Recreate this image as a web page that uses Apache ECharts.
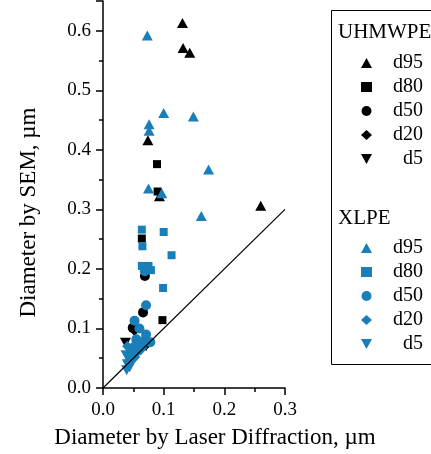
<!DOCTYPE html>
<html>
<head>
<meta charset="utf-8">
<script src="https://cdn.jsdelivr.net/npm/echarts@6/dist/echarts.min.js"></script>
<style>
  html, body { margin: 0; padding: 0; background: #fff; }
  #main { width: 431px; height: 454px; }
</style>
</head>
<body>
<div id="main"></div>
<script>
// data, [laser diffraction, SEM] in µm
var uhmwpeD95 = [[0.131, 0.613], [0.132, 0.571], [0.143, 0.563], [0.074, 0.416], [0.093, 0.322], [0.260, 0.306]];
var uhmwpeD80 = [[0.089, 0.376], [0.090, 0.330], [0.064, 0.251], [0.098, 0.114]];
var uhmwpeD50 = [[0.069, 0.188], [0.066, 0.127], [0.049, 0.101], [0.070, 0.074]];
var uhmwpeD20 = [[0.052, 0.096], [0.072, 0.076], [0.046, 0.066]];
var uhmwpeD5 = [[0.037, 0.076], [0.071, 0.070], [0.048, 0.058]];

var xlpeD95 = [[0.073, 0.592], [0.100, 0.462], [0.149, 0.456], [0.076, 0.443], [0.076, 0.432], [0.174, 0.367], [0.075, 0.335], [0.097, 0.327], [0.162, 0.289]];
var xlpeD80 = [[0.064, 0.266], [0.065, 0.238], [0.100, 0.262], [0.113, 0.223], [0.064, 0.205], [0.075, 0.205], [0.079, 0.198], [0.099, 0.168]];
var xlpeD50 = [[0.071, 0.139], [0.069, 0.196], [0.052, 0.113], [0.060, 0.100], [0.071, 0.090], [0.069, 0.080], [0.078, 0.077], [0.055, 0.082]];
var xlpeD20 = [[0.045, 0.060], [0.050, 0.070], [0.055, 0.078], [0.060, 0.072], [0.048, 0.050], [0.058, 0.062], [0.065, 0.068], [0.042, 0.045], [0.040, 0.070], [0.062, 0.064], [0.053, 0.052]];
var xlpeD5 = [[0.040, 0.040], [0.045, 0.052], [0.052, 0.058], [0.038, 0.055], [0.056, 0.065], [0.044, 0.035], [0.039, 0.030], [0.047, 0.042]];

var diagonal = [[0, 0], [0.3, 0.3]];

var sizeNames = ['d95', 'd80', 'd50', 'd20', 'd5'];
var xTicks = [0, 0.1, 0.2, 0.3];
var yTicks = [0, 0.1, 0.2, 0.3, 0.4, 0.5, 0.6];
var yMax = 0.65;

var FONT = '"Liberation Serif", "Times New Roman", serif';
var BLACK = '#000000';
var BLUE = '#1a7fb8';
var DOWN = 'path://M0,0L11,0L5.5,10Z';
// symbols in the order of sizeNames
var symbols = ['triangle', 'rect', 'circle', 'diamond', DOWN];
var symbolSizes = [[11, 10], 8, 10, [10, 11], [11, 10]];

var chart = echarts.init(document.getElementById('main'));

function scatter(group, i, data, color) {
  return {
    name: group + ' ' + sizeNames[i],
    type: 'scatter',
    data: data,
    symbol: symbols[i],
    symbolSize: symbolSizes[i],
    itemStyle: { color: color, opacity: 1 },
    emphasis: { disabled: true }
  };
}

function legendData(group) {
  return sizeNames.map(function (s, i) {
    return { name: group + ' ' + s, icon: symbols[i] };
  });
}

var legendBase = {
  orient: 'vertical',
  left: 356,
  itemWidth: 11,
  itemHeight: 10,
  itemGap: 4,
  selectedMode: false,
  formatter: function (name) {
    return '{r|' + name.split(' ')[1] + '}';
  },
  textStyle: {
    rich: {
      r: { width: 46, align: 'right', fontSize: 20, fontFamily: FONT, color: BLACK, lineHeight: 22 }
    }
  }
};

var option = {
  animation: false,
  backgroundColor: '#ffffff',
  grid: { left: 103, right: 146, top: 1, bottom: 63 },
  xAxis: {
    type: 'value',
    min: xTicks[0],
    max: xTicks[xTicks.length - 1],
    interval: 0.1,
    name: 'Diameter by Laser Diffraction, µm',
    nameLocation: 'middle',
    nameGap: 38,
    nameTextStyle: { fontFamily: FONT, fontSize: 23, color: BLACK, padding: [0, 0, 0, 42] },
    axisLine: { show: true, lineStyle: { color: BLACK, width: 1.5 } },
    axisTick: { show: true, inside: false, length: 7, lineStyle: { color: BLACK, width: 1.5 } },
    minorTick: { show: true, splitNumber: 2, length: 4, lineStyle: { color: BLACK, width: 1.5 } },
    axisLabel: { fontFamily: FONT, fontSize: 19, color: BLACK, margin: 13, formatter: function (v) { return v.toFixed(1); } },
    splitLine: { show: false }
  },
  yAxis: {
    type: 'value',
    min: yTicks[0],
    max: yMax,
    interval: 0.1,
    name: 'Diameter by SEM, µm',
    nameLocation: 'middle',
    nameGap: 63,
    nameTextStyle: { fontFamily: FONT, fontSize: 23, color: BLACK, padding: [0, 36, 0, 0] },
    axisLine: { show: true, lineStyle: { color: BLACK, width: 1.5 } },
    axisTick: { show: true, inside: false, length: 7, lineStyle: { color: BLACK, width: 1.5 } },
    minorTick: { show: true, splitNumber: 2, length: 4, lineStyle: { color: BLACK, width: 1.5 } },
    axisLabel: {
      fontFamily: FONT, fontSize: 19, color: BLACK, margin: 12, showMaxLabel: false,
      formatter: function (v) { return Math.abs(v * 10 - Math.round(v * 10)) < 1e-6 ? v.toFixed(1) : ''; }
    },
    splitLine: { show: false }
  },
  legend: [
    Object.assign({}, legendBase, { top: 48, data: legendData('UHMWPE') }),
    Object.assign({}, legendBase, { top: 233, data: legendData('XLPE') })
  ],
  graphic: [
    {
      type: 'rect',
      shape: { x: 331.5, y: 10.5, width: 120, height: 354 },
      style: { fill: 'none', stroke: BLACK, lineWidth: 1 },
      silent: true
    },
    {
      type: 'text', x: 338, y: 32,
      style: { text: 'UHMWPE', font: '21px ' + FONT, fill: BLACK, verticalAlign: 'middle' }
    },
    {
      type: 'text', x: 338, y: 218,
      style: { text: 'XLPE', font: '21px ' + FONT, fill: BLACK, verticalAlign: 'middle' }
    }
  ],
  series: [
    scatter('UHMWPE', 0, uhmwpeD95, BLACK),
    scatter('UHMWPE', 1, uhmwpeD80, BLACK),
    scatter('UHMWPE', 2, uhmwpeD50, BLACK),
    scatter('UHMWPE', 3, uhmwpeD20, BLACK),
    scatter('UHMWPE', 4, uhmwpeD5, BLACK),
    scatter('XLPE', 0, xlpeD95, BLUE),
    scatter('XLPE', 1, xlpeD80, BLUE),
    scatter('XLPE', 2, xlpeD50, BLUE),
    scatter('XLPE', 3, xlpeD20, BLUE),
    scatter('XLPE', 4, xlpeD5, BLUE),
    {
      name: 'y = x',
      type: 'line',
      data: diagonal,
      symbol: 'none',
      silent: true,
      z: 5,
      lineStyle: { color: BLACK, width: 1.2 }
    }
  ]
};

chart.setOption(option);
</script>
</body>
</html>
